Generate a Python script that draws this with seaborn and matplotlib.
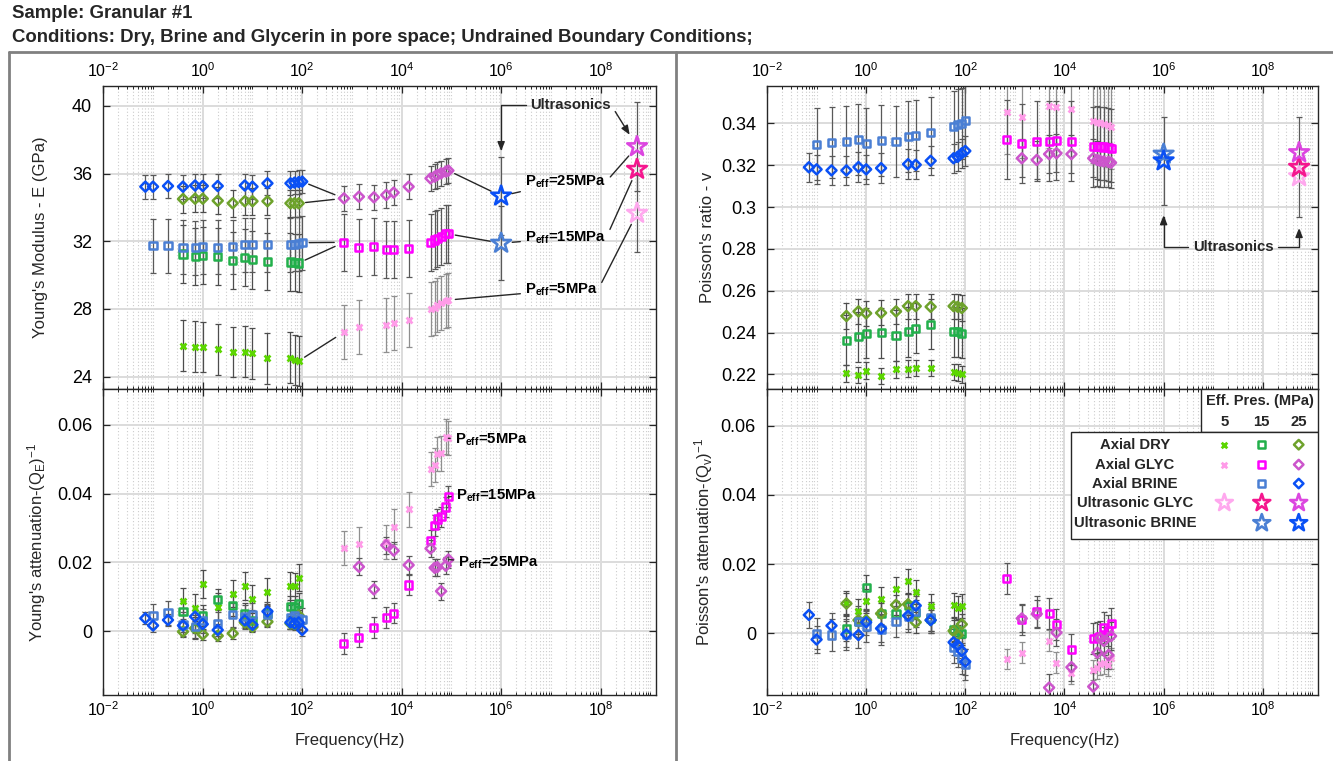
import numpy as np
import matplotlib
matplotlib.use("Agg")
import matplotlib.pyplot as plt
import seaborn as sns
from matplotlib.ticker import FixedLocator, LogLocator, NullFormatter, FuncFormatter
from matplotlib.lines import Line2D
from matplotlib.patches import Rectangle

nan = np.nan

# ---------------- data: frequencies (Hz) ----------------
f_brine25 = [0.07, 0.1, 0.2, 0.4, 0.7, 1, 2, 7, 10, 20, 58, 70, 85, 100]
f_brine15 = [0.1, 0.2, 0.4, 0.7, 1, 2, 4, 7, 10, 20, 58, 70, 85, 100]
f_dry = [0.4, 0.7, 1, 2, 4, 7, 10, 20, 58, 70, 85]
f_glyc = [690, 1380, 2760, 4900, 6900, 13800, 38000, 46000, 52000, 62000, 77000, 87000]
f_us_brine = 1e6
f_us_glyc = 5.4e8

# ---------------- Young's modulus E (GPa) ----------------
E_brine25 = [35.23, 35.23, 35.27, 35.23, 35.30, 35.27, 35.27, 35.30, 35.23, 35.43, 35.43, 35.47, 35.50, 35.53]
E_brine15 = [31.74, 31.74, 31.65, 31.63, 31.68, 31.65, 31.68, 31.80, 31.80, 31.80, 31.80, 31.83, 31.85, 31.92]
E_dry25 = [34.50, 34.52, 34.52, 34.40, 34.25, 34.37, 34.37, 34.37, 34.25, 34.25, 34.25]
E_dry15 = [31.25, 31.09, 31.15, 31.09, 30.86, 31.03, 30.90, 30.80, 30.78, 30.74, 30.72]
E_dry5 = [25.82, 25.78, 25.76, 25.62, 25.46, 25.48, 25.38, 25.09, 25.12, 24.99, 24.93]
E_glyc25 = [34.54, 34.64, 34.60, 34.74, 34.88, 35.23, 35.72, 35.82, 35.92, 36.02, 36.12, 36.18]
E_glyc15 = [31.94, 31.63, 31.69, 31.53, 31.53, 31.59, 31.94, 32.08, 32.16, 32.28, 32.44, 32.44]
E_glyc5 = [26.63, 26.92, nan, 27.06, 27.19, 27.35, 27.98, 28.08, 28.22, 28.34, 28.45, 28.53]
E_us = {"UBRINE15": 31.89, "UBRINE25": 34.68, "UGLYC5": 33.66, "UGLYC15": 36.26, "UGLYC25": 37.60}
eE = {"DRY5": 1.5, "DRY15": 1.7, "DRY25": 0.8, "GLYC5": 1.6, "GLYC15": 1.7, "GLYC25": 0.75,
      "BRINE15": 1.6, "BRINE25": 0.7,
      "UBRINE15": 2.2, "UBRINE25": 2.3, "UGLYC5": 2.27, "UGLYC15": 0.0, "UGLYC25": 2.65}

# ---------------- Poisson's ratio v ----------------
v_brine25 = [0.3190, 0.3180, 0.3175, 0.3175, 0.3191, 0.3180, 0.3186, 0.3205, 0.3202, 0.3221, 0.3233, 0.3240, 0.3257, 0.3268]
v_brine15 = [0.3301, 0.3309, 0.3314, 0.3323, 0.3304, 0.3319, 0.3315, 0.3336, 0.3341, 0.3355, 0.3384, 0.3393, 0.3400, 0.3413]
v_dry25 = [0.2479, 0.2501, 0.2492, 0.2494, 0.2501, 0.2526, 0.2526, 0.2523, 0.2526, 0.2523, 0.2517]
v_dry15 = [0.2364, 0.2380, 0.2396, 0.2399, 0.2386, 0.2404, 0.2421, 0.2440, 0.2404, 0.2404, 0.2396]
v_dry5 = [0.2205, 0.2197, 0.2217, 0.2192, 0.2224, 0.2227, 0.2230, 0.2230, 0.2211, 0.2208, 0.2201]
v_glyc5 = [0.3453, 0.3432, nan, 0.3484, 0.3479, 0.3467, 0.3412, 0.3405, 0.3400, 0.3396, 0.3390, 0.3381]
v_glyc15 = [0.3323, 0.3304, 0.3315, 0.3315, 0.3319, 0.3315, 0.3288, 0.3291, 0.3288, 0.3287, 0.3285, 0.3279]
v_glyc25 = [nan, 0.3233, 0.3225, 0.3253, 0.3257, 0.3253, 0.3233, 0.3225, 0.3221, 0.3218, 0.3216, 0.3212]
v_us = {"UBRINE15": 0.3253, "UBRINE25": 0.3221, "UGLYC5": 0.3145, "UGLYC15": 0.3190, "UGLYC25": 0.3260}
ev = {"DRY5": 0.004, "DRY15": 0.012, "DRY25": 0.006, "GLYC5": 0.02, "GLYC15": 0.019, "GLYC25": 0.009,
      "BRINE15": 0.017, "BRINE25": 0.007,
      "UBRINE15": 0.0, "UBRINE25": 0.021, "UGLYC5": 0.0, "UGLYC15": 0.024, "UGLYC25": 0.0}

# ---------------- Young's attenuation 1/QE ----------------
QE_brine25 = [0.0037, 0.0016, 0.0032, 0.0016, 0.0042, 0.0020, 0.0003, 0.0031, 0.0018, 0.0057, 0.0025, 0.0022, 0.0025, 0.0003]
QE_brine15 = [0.0045, 0.0053, 0.0020, 0.0013, 0.0030, 0.0021, 0.0047, 0.0042, 0.0047, 0.0049, 0.0040, 0.0045, 0.0037, 0.0033]
QE_dry25 = [-0.0002, 0.0008, -0.0010, -0.0014, -0.0007, 0.0025, 0.0012, 0.0027, 0.0022, 0.0020, 0.0045]
QE_dry15 = [0.0056, 0.0010, 0.0045, 0.0091, 0.0074, 0.0051, 0.0030, 0.0050, 0.0071, 0.0071, 0.0081]
QE_dry5 = [0.0086, 0.0068, 0.0137, 0.0071, 0.0109, 0.0131, 0.0093, 0.0114, 0.0131, 0.0130, 0.0155]
QE_glyc5 = [0.0241, 0.0252, nan, 0.0260, 0.0304, 0.0354, 0.0472, 0.0483, 0.0515, 0.0517, 0.0566, 0.0561]
QE_glyc15 = [-0.0037, -0.0018, 0.0011, 0.0040, 0.0052, 0.0134, 0.0263, 0.0307, 0.0326, 0.0332, 0.0361, 0.0391]
QE_glyc25 = [nan, 0.0187, 0.0121, 0.0250, 0.0234, 0.0192, 0.0240, 0.0184, 0.0186, 0.0116, 0.0190, 0.0208]
eQE = {"DRY5": 0.0040, "DRY15": 0.0030, "DRY25": 0.0015, "GLYC5": 0.0050, "GLYC15": 0.0030,
       "GLYC25": 0.0025, "BRINE15": 0.0035, "BRINE25": 0.0018}

# ---------------- Poisson's attenuation 1/Qv ----------------
Qv_brine25 = [0.0053, -0.0018, 0.0022, -0.0003, -0.0005, 0.0032, 0.0014, 0.0051, 0.0080, 0.0038, -0.0026, -0.0034, -0.0051, -0.0082]
Qv_brine15 = [0.0000, -0.0005, -0.0003, 0.0034, 0.0019, 0.0010, 0.0034, 0.0048, 0.0062, 0.0046, -0.0040, -0.0053, -0.0072, -0.0091]
Qv_dry25 = [0.0086, 0.0038, 0.0038, 0.0057, 0.0082, 0.0084, 0.0032, 0.0038, 0.0007, -0.0005, 0.0026]
Qv_dry15 = [0.0014, 0.0034, 0.0133, 0.0058, 0.0058, 0.0080, 0.0060, 0.0043, 0.0010, 0.0007, 0.0000]
Qv_dry5 = [0.0087, 0.0064, 0.0093, 0.0099, 0.0127, 0.0151, 0.0120, 0.0078, 0.0082, 0.0072, 0.0080]
Qv_glyc5 = [-0.0074, -0.0056, nan, -0.0021, -0.0085, -0.0116, -0.0106, -0.0101, -0.0090, -0.0087, -0.0092, -0.0072]
Qv_glyc15 = [0.0158, 0.0041, 0.0063, 0.0056, 0.0026, -0.0046, -0.0014, -0.0012, -0.0010, 0.0017, 0.0008, 0.0029]
Qv_glyc25 = [nan, 0.0043, 0.0056, -0.0157, 0.0002, -0.0098, -0.0154, -0.0056, -0.0014, -0.0022, -0.0063, -0.0008]
eQv = {"DRY5": 0.0035, "DRY15": 0.0035, "DRY25": 0.003, "GLYC5": 0.003, "GLYC15": 0.0045,
       "GLYC25": 0.004, "BRINE15": 0.0045, "BRINE25": 0.0038}

# legend table
row_labels = ["Axial DRY", "Axial GLYC", "Axial BRINE", "Ultrasonic GLYC", "Ultrasonic BRINE"]
col_labels = ["5", "15", "25"]
legend_keys = [["DRY5", "DRY15", "DRY25"], ["GLYC5", "GLYC15", "GLYC25"], [None, "BRINE15", "BRINE25"],
               ["UGLYC5", "UGLYC15", "UGLYC25"], [None, "UBRINE15", "UBRINE25"]]

# ---------------- styles ----------------
STYLE = {
    "DRY5": dict(marker="x", color="#5cd600", s=18, lw=2.0, ec="#4d4d4d"),
    "DRY15": dict(marker="s", color="#22b04b", s=26, lw=1.8, ec="#4d4d4d"),
    "DRY25": dict(marker="D", color="#6ea22c", s=26, lw=1.8, ec="#4d4d4d"),
    "GLYC5": dict(marker="x", color="#ff9be8", s=18, lw=2.0, ec="#8f8f8f"),
    "GLYC15": dict(marker="s", color="#ff00ff", s=26, lw=1.8, ec="#595959"),
    "GLYC25": dict(marker="D", color="#cc55cc", s=26, lw=1.8, ec="#595959"),
    "BRINE15": dict(marker="s", color="#4a7fd4", s=26, lw=1.8, ec="#595959"),
    "BRINE25": dict(marker="D", color="#0a50f5", s=26, lw=1.8, ec="#595959"),
    "UGLYC5": dict(marker="*", color="#ffa8ee", s=220, lw=1.9, ec="#595959"),
    "UGLYC15": dict(marker="*", color="#f5168e", s=220, lw=1.9, ec="#595959"),
    "UGLYC25": dict(marker="*", color="#dc46e0", s=220, lw=1.9, ec="#595959"),
    "UBRINE15": dict(marker="*", color="#4a7fd4", s=220, lw=1.9, ec="#595959"),
    "UBRINE25": dict(marker="*", color="#0a50f5", s=220, lw=1.9, ec="#595959"),
}

sns.set_theme(style="white")
plt.rcParams["font.family"] = ["Liberation Sans", "DejaVu Sans"]
plt.rcParams["mathtext.fontset"] = "custom"
plt.rcParams["mathtext.rm"] = "Liberation Sans"
plt.rcParams["mathtext.it"] = "Liberation Sans:italic"
plt.rcParams["mathtext.bf"] = "Liberation Sans:bold"
plt.rcParams["axes.edgecolor"] = "#262626"
plt.rcParams["axes.linewidth"] = 1.0

fig = plt.figure(figsize=(13.33, 7.61), dpi=100)

LX, RX, W_L, W_R = 103.3 / 1333, 767 / 1333, 552.7 / 1333, 551 / 1333
TB, TH = 1 - 389 / 761, (389 - 85.7) / 761
BB, BH = 1 - 695 / 761, (695 - 389) / 761
ax_E = fig.add_axes([LX, TB, W_L, TH])
ax_QE = fig.add_axes([LX, BB, W_L, BH])
ax_v = fig.add_axes([RX, TB, W_R, TH])
ax_Qv = fig.add_axes([RX, BB, W_R, BH])

INK = "#262626"


def setup(ax, ylim, yticks, top):
    ax.set_xscale("log")
    ax.set_xlim(1e-2, 1.3e9)
    ax.set_ylim(*ylim)
    ax.xaxis.set_major_locator(FixedLocator([1e-2, 1, 1e2, 1e4, 1e6, 1e8]))
    ax.xaxis.set_minor_locator(LogLocator(base=10, subs=np.arange(1, 10), numticks=100))
    ax.xaxis.set_minor_formatter(NullFormatter())
    ax.yaxis.set_major_locator(FixedLocator(yticks))
    ax.yaxis.set_major_formatter(FuncFormatter(lambda v, p: "{:g}".format(round(v, 4))))
    ax.grid(True, which="major", color="#dcdcdc", lw=1.4)
    ax.grid(True, which="minor", axis="x", color="#cccccc", ls=(0, (1, 2)), lw=0.8)
    ax.set_axisbelow(True)
    ax.tick_params(which="both", direction="in", top=True, bottom=True, left=True, right=True,
                   color=INK, labelcolor="black")
    ax.tick_params(which="major", length=5, width=0.9)
    ax.tick_params(which="minor", length=2.5, width=0.7)
    ax.tick_params(axis="y", labelsize=13, pad=8)
    ax.tick_params(axis="x", labelsize=11.5, pad=4, labeltop=top, labelbottom=not top)
    for s in ax.spines.values():
        s.set_zorder(5)


def draw(ax, key, f, y, err):
    st = STYLE[key]
    f = np.atleast_1d(np.asarray(f, dtype=float))
    y = np.atleast_1d(np.asarray(y, dtype=float))
    if np.any(np.asarray(err) > 0):
        ax.errorbar(f, y, yerr=err, fmt="none", ecolor=st["ec"], elinewidth=0.9,
                    capsize=2, capthick=0.9, zorder=2)
    kw = dict(x=f, y=y, ax=ax, marker=st["marker"], s=st["s"], linewidth=st["lw"],
              legend=False, zorder=4)
    if st["marker"] == "x":
        sns.scatterplot(color=st["color"], **kw)
    else:
        sns.scatterplot(facecolor="none", edgecolor=st["color"], **kw)


setup(ax_E, (23.27, 41.2), [24, 28, 32, 36, 40], True)
setup(ax_QE, (-0.01863, 0.07045), [0, 0.02, 0.04, 0.06], False)
setup(ax_v, (0.2130, 0.358), [0.22, 0.24, 0.26, 0.28, 0.30, 0.32, 0.34], True)
setup(ax_Qv, (-0.01783, 0.0706), [0, 0.02, 0.04, 0.06], False)

axial = [("DRY5", f_dry), ("DRY15", f_dry), ("DRY25", f_dry),
         ("GLYC5", f_glyc), ("GLYC15", f_glyc), ("GLYC25", f_glyc),
         ("BRINE15", f_brine15), ("BRINE25", f_brine25)]
E_vals = dict(DRY5=E_dry5, DRY15=E_dry15, DRY25=E_dry25, GLYC5=E_glyc5, GLYC15=E_glyc15,
              GLYC25=E_glyc25, BRINE15=E_brine15, BRINE25=E_brine25)
v_vals = dict(DRY5=v_dry5, DRY15=v_dry15, DRY25=v_dry25, GLYC5=v_glyc5, GLYC15=v_glyc15,
              GLYC25=v_glyc25, BRINE15=v_brine15, BRINE25=v_brine25)
QE_vals = dict(DRY5=QE_dry5, DRY15=QE_dry15, DRY25=QE_dry25, GLYC5=QE_glyc5, GLYC15=QE_glyc15,
               GLYC25=QE_glyc25, BRINE15=QE_brine15, BRINE25=QE_brine25)
Qv_vals = dict(DRY5=Qv_dry5, DRY15=Qv_dry15, DRY25=Qv_dry25, GLYC5=Qv_glyc5, GLYC15=Qv_glyc15,
               GLYC25=Qv_glyc25, BRINE15=Qv_brine15, BRINE25=Qv_brine25)

for key, f in axial:
    draw(ax_E, key, f, E_vals[key], eE[key])
    draw(ax_v, key, f, v_vals[key], ev[key])
    draw(ax_QE, key, f, QE_vals[key], eQE[key])
    draw(ax_Qv, key, f, Qv_vals[key], eQv[key])

us_freq = {"UBRINE15": f_us_brine, "UBRINE25": f_us_brine,
           "UGLYC5": f_us_glyc, "UGLYC15": f_us_glyc, "UGLYC25": f_us_glyc}
for key in ["UGLYC5", "UGLYC15", "UGLYC25", "UBRINE15", "UBRINE25"]:
    draw(ax_E, key, [us_freq[key]], [E_us[key]], eE[key])
    draw(ax_v, key, [us_freq[key]], [v_us[key]], ev[key])

# ---------------- annotations ----------------
LINE = dict(arrowstyle="-", color=INK, lw=1.0)


def connect(ax, p0, p1, sA=5, sB=5):
    ax.annotate("", xy=p1, xytext=p0, xycoords="data", textcoords="data",
                arrowprops=dict(LINE, shrinkA=sA, shrinkB=sB), zorder=3)


def label(ax, text, pos, target, sB=6, ha="left", visible=True, relpos=(0.5, 0.5)):
    ax.annotate(text, xy=target, xytext=pos, xycoords="data", textcoords="axes fraction",
                ha=ha, va="center", fontsize=10.7, fontweight="bold",
                color="black" if visible else "none",
                arrowprops=dict(LINE, shrinkA=1, shrinkB=sB, relpos=relpos), zorder=6)


# links between axial series and glycerin series (top-left)
connect(ax_E, (f_brine25[-1], E_brine25[-1]), (f_glyc[0], E_glyc25[0]), 5, 7)
connect(ax_E, (f_dry[-1], E_dry25[-1]), (f_glyc[0], E_glyc25[0]), 5, 7)
connect(ax_E, (f_brine15[-1], E_brine15[-1]), (f_glyc[0], E_glyc15[0]), 5, 7)
connect(ax_E, (f_dry[-1], E_dry15[-1]), (f_glyc[0], E_glyc15[0]), 5, 7)
connect(ax_E, (f_dry[-1], E_dry5[-1]), (f_glyc[0], E_glyc5[0]), 5, 7)
connect(ax_E, (f_glyc[-1], E_glyc25[-1]), (f_us_brine, E_us["UBRINE25"]), 5, 8)
connect(ax_E, (f_glyc[-1], E_glyc15[-1]), (f_us_brine, E_us["UBRINE15"]), 5, 8)

P25 = r"P$_{\mathbf{eff}}$=25MPa"
P15 = r"P$_{\mathbf{eff}}$=15MPa"
P5 = r"P$_{\mathbf{eff}}$=5MPa"

label(ax_E, P25, (0.763, 0.6835), (f_us_brine, E_us["UBRINE25"]), sB=8)
label(ax_E, P25, (0.763, 0.6835), (f_us_glyc, E_us["UGLYC25"]), sB=9, visible=False, relpos=(1, 0.5))
label(ax_E, P15, (0.763, 0.498), (f_us_brine, E_us["UBRINE15"]), sB=8)
label(ax_E, P15, (0.763, 0.498), (f_us_glyc, E_us["UGLYC15"]), sB=9, visible=False, relpos=(1, 0.5))
label(ax_E, P5, (0.763, 0.326), (f_glyc[-1], E_glyc5[-1]), sB=5)
label(ax_E, P5, (0.763, 0.326), (f_us_glyc, E_us["UGLYC5"]), sB=9, visible=False, relpos=(1, 0.5))

ARROW = dict(arrowstyle="-|>,head_length=0.55,head_width=0.22", color=INK, lw=1.0,
             mutation_scale=10, shrinkA=1, shrinkB=0)
ax_E.annotate("Ultrasonics", xy=(f_us_brine, E_us["UBRINE25"] + eE["UBRINE25"] + 0.35),
              xytext=(0.846, 0.936), textcoords="axes fraction", ha="center", va="center",
              fontsize=10.7, fontweight="bold", zorder=6,
              arrowprops=dict(ARROW, connectionstyle="angle,angleA=0,angleB=90,rad=0"))
ax_E.annotate("Ultrasonics", xy=(f_us_glyc, E_us["UGLYC25"]),
              xytext=(0.846, 0.936), textcoords="axes fraction", ha="center", va="center",
              fontsize=10.7, fontweight="bold", color="none", zorder=6,
              arrowprops=dict(ARROW, shrinkB=10, relpos=(1, 0.5)))

label(ax_QE, P5, (0.636, 0.833), (f_glyc[-1], QE_glyc5[-1]), sB=4)
label(ax_QE, P15, (0.638, 0.652), (f_glyc[-1], QE_glyc15[-1]), sB=4)
label(ax_QE, P25, (0.642, 0.431), (f_glyc[-1], QE_glyc25[-1]), sB=4)

ax_v.annotate("Ultrasonics", xy=(f_us_brine, v_us["UBRINE25"] - ev["UBRINE25"] - 0.005),
              xytext=(0.846, 0.469), textcoords="axes fraction", ha="center", va="center",
              fontsize=10.7, fontweight="bold", zorder=6,
              arrowprops=dict(ARROW, connectionstyle="angle,angleA=0,angleB=90,rad=0"))
ax_v.annotate("Ultrasonics", xy=(f_us_glyc, v_us["UGLYC15"] - ev["UGLYC15"] - 0.005),
              xytext=(0.846, 0.469), textcoords="axes fraction", ha="center", va="center",
              fontsize=10.7, fontweight="bold", color="none", zorder=6,
              arrowprops=dict(ARROW, connectionstyle="angle,angleA=0,angleB=90,rad=0"))

# ---------------- legend table (bottom-right) ----------------
T = ax_Qv.transAxes
ax_Qv.add_patch(Rectangle((0.788, 0.859), 0.212, 0.141, transform=T, facecolor="white",
                          edgecolor=INK, lw=1.0, zorder=7))
ax_Qv.add_patch(Rectangle((0.551, 0.511), 0.449, 0.348, transform=T, facecolor="white",
                          edgecolor=INK, lw=1.0, zorder=7))
ax_Qv.text(0.894, 0.962, "Eff. Pres. (MPa)", transform=T, ha="center", va="center",
           fontsize=10.5, fontweight="bold", zorder=8)
col_x = [0.830, 0.898, 0.965]
row_y = [0.818, 0.753, 0.691, 0.628, 0.562]
for cx, cl in zip(col_x, col_labels):
    ax_Qv.text(cx, 0.893, cl, transform=T, ha="center", va="center", fontsize=10.7,
               fontweight="bold", zorder=8)
for ry, rl, keys in zip(row_y, row_labels, legend_keys):
    ax_Qv.text(0.668, ry, rl, transform=T, ha="center", va="center", fontsize=10.7,
               fontweight="bold", zorder=8)
    for cx, k in zip(col_x, keys):
        if k is None:
            continue
        st = STYLE[k]
        s = st["s"] * (0.75 if st["marker"] == "*" else 0.9)
        if st["marker"] == "x":
            ax_Qv.scatter([cx], [ry], transform=T, marker="x", s=s, color=st["color"],
                          linewidths=st["lw"], zorder=9, clip_on=False)
        else:
            ax_Qv.scatter([cx], [ry], transform=T, marker=st["marker"], s=s, facecolors="none",
                          edgecolors=st["color"], linewidths=st["lw"], zorder=9, clip_on=False)

# ---------------- axis labels ----------------
ax_E.set_ylabel("Young's Modulus - E (GPa)", fontsize=12)
ax_QE.set_ylabel(r"Young's attenuation-(Q$_{\mathrm{E}}$)$^{-1}$", fontsize=12)
ax_v.set_ylabel("Poisson's ratio - v", fontsize=12)
ax_Qv.set_ylabel(r"Poisson's attenuation-(Q$_{\mathrm{v}}$)$^{-1}$", fontsize=12)
for a in (ax_E, ax_QE):
    a.yaxis.set_label_coords(-0.100, 0.5)
for a in (ax_v, ax_Qv):
    a.yaxis.set_label_coords(-0.094, 0.5)
ax_QE.set_xlabel("Frequency(Hz)", fontsize=12)
ax_Qv.set_xlabel("Frequency(Hz)", fontsize=12)
ax_QE.xaxis.set_label_coords(0.446, -0.124)
ax_Qv.xaxis.set_label_coords(0.541, -0.124)

# ---------------- figure frame and titles ----------------
GREY = "#808080"
ytop = 1 - 52 / 761
fig.add_artist(Line2D([9 / 1333, 9 / 1333], [0, ytop], transform=fig.transFigure, color=GREY, lw=2))
fig.add_artist(Line2D([9 / 1333, 1], [ytop, ytop], transform=fig.transFigure, color=GREY, lw=2))
fig.add_artist(Line2D([676 / 1333, 676 / 1333], [0, ytop], transform=fig.transFigure, color=GREY, lw=2))
fig.text(12 / 1333, 1 - 14 / 761, "Sample: Granular #1", ha="left", va="center",
         fontsize=13.4, fontweight="bold")
fig.text(12 / 1333, 1 - 37 / 761,
         "Conditions: Dry, Brine and Glycerin in pore space; Undrained Boundary Conditions;",
         ha="left", va="center", fontsize=13.4, fontweight="bold")

fig.savefig("out.png", dpi=100, facecolor="white")
